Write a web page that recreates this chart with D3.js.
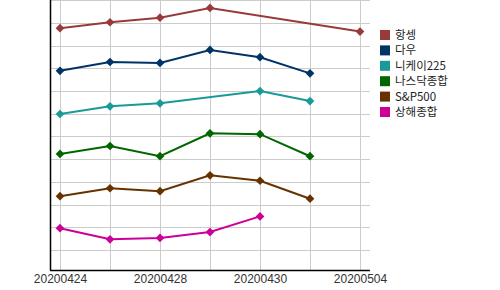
<!DOCTYPE html>
<html>
<head>
<meta charset="utf-8">
<script src="https://cdn.jsdelivr.net/npm/d3@7"></script>
<style>
  body { margin: 0; background: #fff; }
  svg { display: block; font-family: "Noto Sans CJK KR", "DejaVu Sans", sans-serif; }
</style>
</head>
<body>
<svg width="500" height="290"></svg>
<script>
// dates on the x axis (every other one labelled)
var dates = ["20200424", "20200427", "20200428", "20200429", "20200430", "20200501", "20200504"];
var tickLabels = ["20200424", "20200428", "20200430", "20200504"];

var names = ["항셍", "다우", "니케이225", "나스닥종합", "S&P500", "상해종합"];
var colors = ["#993a3a", "#003366", "#1a9999", "#006600", "#663300", "#cc0099"];

// relative level of each index (null = no trading that day)
var hangseng = [97.7, 100.3, 102.3, 106.6, null, null, 96.2];
var dow      = [78.9, 82.8, 82.4, 88.1, 84.9, 77.8, null];
var nikkei   = [59.9, 63.3, 64.6, null, 70.0, 65.6, null];
var nasdaq   = [42.3, 45.8, 41.3, 51.4, 51.0, 41.3, null];
var sp500    = [23.7, 27.2, 25.9, 32.9, 30.5, 22.6, null];
var shanghai = [9.6, 4.7, 5.3, 7.9, 14.8, null, null];

var yTicks = d3.range(0, 111, 10);

var seriesValues = [hangseng, dow, nikkei, nasdaq, sp500, shanghai];

var svg = d3.select("svg"),
    margin = {top: 0, right: 130, bottom: 20, left: 50},
    width = 500 - margin.left - margin.right,
    height = 290 - margin.top - margin.bottom,
    g = svg.append("g").attr("transform", "translate(" + margin.left + "," + margin.top + ")");

var x = d3.scalePoint().domain(dates).range([0, width]).padding(0.2),
    y = d3.scaleLinear().domain([-8.8, 110.1]).range([height, 0]);

// grid
g.append("g")
    .selectAll("line.h")
    .data(yTicks)
    .enter().append("line")
    .attr("x1", 0).attr("x2", width)
    .attr("y1", function(d) { return Math.round(y(d)) + 0.5; })
    .attr("y2", function(d) { return Math.round(y(d)) + 0.5; })
    .style("stroke", "#cccccc");

g.append("g")
    .selectAll("line.v")
    .data(dates)
    .enter().append("line")
    .attr("x1", function(d) { return Math.round(x(d)) + 0.5; })
    .attr("x2", function(d) { return Math.round(x(d)) + 0.5; })
    .attr("y1", 0).attr("y2", height)
    .style("stroke", "#cccccc");

// axes
g.append("line")
    .attr("x1", 0.5).attr("x2", 0.5).attr("y1", 0).attr("y2", height)
    .style("stroke", "#000").style("stroke-width", 1.5);
g.append("line")
    .attr("x1", 0).attr("x2", width).attr("y1", height + 0.5).attr("y2", height + 0.5)
    .style("stroke", "#000").style("stroke-width", 1.5);

var xAxis = g.append("g")
    .attr("transform", "translate(0," + height + ")")
    .call(d3.axisBottom(x).tickValues(tickLabels).tickSize(0).tickPadding(4));
xAxis.select(".domain").remove();
xAxis.selectAll("text")
    .style("font-size", "12px")
    .style("fill", "#333");

var line = d3.line()
    .x(function(d) { return x(d.date); })
    .y(function(d) { return y(d.value); });

var series = names.map(function(name, i) {
  return {
    name: name,
    color: colors[i],
    values: dates.map(function(d, j) { return {date: d, value: seriesValues[i][j]}; })
      .filter(function(d) { return d.value != null; })
  };
});

// square turned 45 degrees = diamond marker
var marker = d3.symbol().type(d3.symbolSquare).size(38);

var s = g.selectAll(".series")
    .data(series)
    .enter().append("g")
    .attr("class", "series");

s.append("path")
    .attr("d", function(d) { return line(d.values); })
    .style("fill", "none")
    .style("stroke", function(d) { return d.color; })
    .style("stroke-width", 2);

s.selectAll("path.pt")
    .data(function(d) { return d.values.map(function(v) { return {date: v.date, value: v.value, color: d.color}; }); })
    .enter().append("path")
    .attr("class", "pt")
    .attr("d", marker)
    .attr("transform", function(d) { return "translate(" + x(d.date) + "," + y(d.value) + ") rotate(45)"; })
    .style("fill", function(d) { return d.color; });

// legend
var legend = svg.selectAll(".legend")
    .data(series)
    .enter().append("g")
    .attr("class", "legend")
    .attr("transform", function(d, i) { return "translate(380," + (30 + i * 15.4) + ")"; });

legend.append("rect")
    .attr("width", 10).attr("height", 10)
    .style("fill", function(d) { return d.color; });

legend.append("text")
    .attr("x", 15).attr("y", 5)
    .attr("dy", "0.35em")
    .style("font-size", "11.5px")
    .style("fill", "#222")
    .text(function(d) { return d.name; });
</script>
</body>
</html>
